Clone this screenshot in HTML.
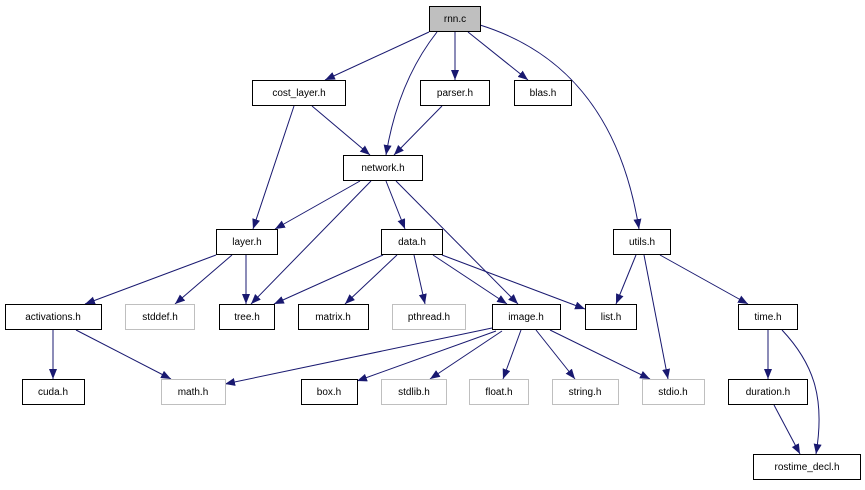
<!DOCTYPE html>
<html><head><meta charset="utf-8"><style>
html,body{margin:0;padding:0;background:#fff;}
svg text{font-family:"Liberation Sans",Helvetica,sans-serif;font-size:10px;text-anchor:middle;fill:#000;}
</style></head><body>
<svg width="865" height="485" viewBox="0 0 865 485" xmlns="http://www.w3.org/2000/svg">
<defs>
<marker id="a" markerUnits="userSpaceOnUse" markerWidth="12" markerHeight="10" refX="10" refY="4" orient="auto">
<path d="M0,0 L10,4 L0,8 Z" fill="#191970"/>
</marker>
</defs>
<g fill="none" stroke="#191970" stroke-width="1" marker-end="url(#a)">
<path d="M429,32 L325,80"/>
<path d="M437,32 C415,60 395,100 386,155"/>
<path d="M455,32 L455,80"/>
<path d="M468,32 L528,80"/>
<path d="M480,25 C560,50 620,110 639,229"/>
<path d="M294,106 L253,229"/>
<path d="M312,106 L370,155"/>
<path d="M442,106 L394,155"/>
<path d="M360,181 L275,229"/>
<path d="M371,181 L251,304"/>
<path d="M386,181 L405,229"/>
<path d="M396,181 L518,304"/>
<path d="M216,255 L85,304"/>
<path d="M232,255 L175,304"/>
<path d="M246,255 L246,304"/>
<path d="M383,255 L274,304"/>
<path d="M397,255 L345,304"/>
<path d="M414,255 L425,304"/>
<path d="M433,255 L507,304"/>
<path d="M442,255 L585,309"/>
<path d="M636,255 L616,304"/>
<path d="M644,255 L668,379"/>
<path d="M660,255 L748,304"/>
<path d="M53,330 L53,379"/>
<path d="M76,330 L171,379"/>
<path d="M492,328 L225,384"/>
<path d="M496,331 L357,381"/>
<path d="M502,331 L430,379"/>
<path d="M521,330 L503,379"/>
<path d="M536,330 L575,379"/>
<path d="M550,330 L650,379"/>
<path d="M768,330 L768,379"/>
<path d="M782,330 C815,365 825,400 816,454"/>
<path d="M774,405 L800,454"/>
</g>
<g stroke-width="1">
<rect x="429.5" y="6.5" width="51" height="25" fill="#bfbfbf" stroke="#000"/>
<rect x="252.5" y="80.5" width="93" height="25" fill="#fff" stroke="#000"/>
<rect x="420.5" y="80.5" width="69" height="25" fill="#fff" stroke="#000"/>
<rect x="514.5" y="80.5" width="57" height="25" fill="#fff" stroke="#000"/>
<rect x="343.5" y="155.5" width="79" height="25" fill="#fff" stroke="#000"/>
<rect x="216.5" y="229.5" width="61" height="25" fill="#fff" stroke="#000"/>
<rect x="381.5" y="229.5" width="61" height="25" fill="#fff" stroke="#000"/>
<rect x="613.5" y="229.5" width="57" height="25" fill="#fff" stroke="#000"/>
<rect x="5.5" y="304.5" width="96" height="25" fill="#fff" stroke="#000"/>
<rect x="125.5" y="304.5" width="69" height="25" fill="#fff" stroke="#bfbfbf"/>
<rect x="219.5" y="304.5" width="55" height="25" fill="#fff" stroke="#000"/>
<rect x="298.5" y="304.5" width="70" height="25" fill="#fff" stroke="#000"/>
<rect x="392.5" y="304.5" width="73" height="25" fill="#fff" stroke="#bfbfbf"/>
<rect x="492.5" y="304.5" width="68" height="25" fill="#fff" stroke="#000"/>
<rect x="585.5" y="304.5" width="51" height="25" fill="#fff" stroke="#000"/>
<rect x="738.5" y="304.5" width="59" height="25" fill="#fff" stroke="#000"/>
<rect x="22.5" y="379.5" width="62" height="25" fill="#fff" stroke="#000"/>
<rect x="161.5" y="379.5" width="64" height="25" fill="#fff" stroke="#bfbfbf"/>
<rect x="301.5" y="379.5" width="56" height="25" fill="#fff" stroke="#000"/>
<rect x="381.5" y="379.5" width="65" height="25" fill="#fff" stroke="#bfbfbf"/>
<rect x="469.5" y="379.5" width="59" height="25" fill="#fff" stroke="#bfbfbf"/>
<rect x="552.5" y="379.5" width="66" height="25" fill="#fff" stroke="#bfbfbf"/>
<rect x="642.5" y="379.5" width="62" height="25" fill="#fff" stroke="#bfbfbf"/>
<rect x="728.5" y="379.5" width="79" height="25" fill="#fff" stroke="#000"/>
<rect x="753.5" y="454.5" width="107" height="25" fill="#fff" stroke="#000"/>
</g>
<g>
<text x="455" y="22">rnn.c</text>
<text x="299" y="96">cost_layer.h</text>
<text x="455" y="96">parser.h</text>
<text x="543" y="96">blas.h</text>
<text x="383" y="171">network.h</text>
<text x="247" y="245">layer.h</text>
<text x="412" y="245">data.h</text>
<text x="642" y="245">utils.h</text>
<text x="53" y="320">activations.h</text>
<text x="160" y="320">stddef.h</text>
<text x="247" y="320">tree.h</text>
<text x="333" y="320">matrix.h</text>
<text x="429" y="320">pthread.h</text>
<text x="526" y="320">image.h</text>
<text x="611" y="320">list.h</text>
<text x="768" y="320">time.h</text>
<text x="53" y="395">cuda.h</text>
<text x="193" y="395">math.h</text>
<text x="329" y="395">box.h</text>
<text x="414" y="395">stdlib.h</text>
<text x="499" y="395">float.h</text>
<text x="585" y="395">string.h</text>
<text x="673" y="395">stdio.h</text>
<text x="768" y="395">duration.h</text>
<text x="807" y="470">rostime_decl.h</text>
</g>
</svg>
</body></html>
